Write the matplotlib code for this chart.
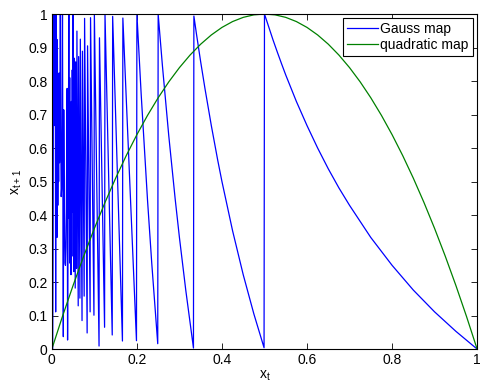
import matplotlib
matplotlib.use("Agg")
import matplotlib.pyplot as plt

# ── Data ──────────────────────────────────────────────────────────────────────

# Gauss map, chaotic part: sample points x = 0.001 ... 0.070
gauss_x_dense = [k / 1000 for k in range(1, 71)]
gauss_y_dense = [
    0.0, 0.0, 0.333, 1.0, 1.0, 0.667, 0.857, 1.0, 0.111, 1.0,
    0.909, 0.333, 0.923, 0.429, 0.667, 0.5, 0.824, 0.556, 0.632, 1.0,
    0.619, 0.455, 0.478, 0.667, 1.0, 0.462, 0.037, 0.714, 0.483, 0.333,
    0.258, 0.25, 0.303, 0.412, 0.571, 0.778, 0.027, 0.316, 0.641, 1.0,
    0.390, 0.810, 0.256, 0.727, 0.222, 0.739, 0.277, 0.833, 0.408, 1.0,
    0.608, 0.231, 0.868, 0.519, 0.182, 0.857, 0.544, 0.241, 0.949, 0.667,
    0.393, 0.129, 0.873, 0.625, 0.385, 0.152, 0.925, 0.706, 0.493, 0.286,
]

# Gauss map, teeth: corner points (x, y) for x > 0.07
gauss_x_teeth = [
    0.071, 0.072, 0.076, 0.077, 0.083, 0.084, 0.090, 0.091, 0.099, 0.100,
    0.111, 0.112, 0.124, 0.125, 0.142, 0.143, 0.166, 0.167, 0.199,
    0.200, 0.210, 0.225, 0.235, 0.249,
    0.250, 0.260, 0.275, 0.290, 0.300, 0.315, 0.333,
    0.334, 0.340, 0.350, 0.360, 0.375, 0.390, 0.400, 0.425, 0.450, 0.475, 0.499,
    0.500, 0.510, 0.520, 0.530, 0.540, 0.550, 0.575, 0.600, 0.625, 0.650,
    0.675, 0.700, 0.750, 0.800, 0.850, 0.900, 0.950, 0.999, 1.000,
]
gauss_y_teeth = [
    0.085, 0.889, 0.158, 0.987, 0.048, 0.905, 0.111, 0.989, 0.101, 1.0,
    0.009, 0.929, 0.065, 1.0, 0.042, 0.993, 0.024, 0.988, 0.025,
    1.0, 0.762, 0.444, 0.255, 0.016,
    1.0, 0.846, 0.636, 0.448, 0.333, 0.175, 0.003,
    0.994, 0.941, 0.857, 0.778, 0.667, 0.564, 0.5, 0.353, 0.222, 0.105, 0.004,
    1.0, 0.961, 0.923, 0.887, 0.852, 0.818, 0.739, 0.667, 0.6, 0.538,
    0.481, 0.429, 0.333, 0.25, 0.176, 0.111, 0.053, 0.001, 0.0,
]

# Quadratic map
quad_x = [k / 40 for k in range(41)]
quad_y = [
    0.0, 0.0975, 0.19, 0.2775, 0.36, 0.4375, 0.51, 0.5775, 0.64, 0.6975,
    0.75, 0.7975, 0.84, 0.8775, 0.91, 0.9375, 0.96, 0.9775, 0.99, 0.9975,
    1.0,
    0.9975, 0.99, 0.9775, 0.96, 0.9375, 0.91, 0.8775, 0.84, 0.7975, 0.75,
    0.6975, 0.64, 0.5775, 0.51, 0.4375, 0.36, 0.2775, 0.19, 0.0975, 0.0,
]

x_ticks = [0, 0.2, 0.4, 0.6, 0.8, 1]
x_tick_labels = ["0", "0.2", "0.4", "0.6", "0.8", "1"]
y_ticks = [0, 0.1, 0.2, 0.3, 0.4, 0.5, 0.6, 0.7, 0.8, 0.9, 1]
y_tick_labels = ["0", "0.1", "0.2", "0.3", "0.4", "0.5", "0.6", "0.7", "0.8", "0.9", "1"]

# ── Plot ──────────────────────────────────────────────────────────────────────

plt.rcParams["font.family"] = ["Liberation Sans", "DejaVu Sans"]
plt.rcParams["font.size"] = 10

fig = plt.figure(figsize=(4.8, 3.84), dpi=100)
ax = fig.add_axes([0.108, 0.091, 0.886, 0.8725])

gauss_x = gauss_x_dense + gauss_x_teeth
gauss_y = gauss_y_dense + gauss_y_teeth
ax.plot(gauss_x, gauss_y, color="#0000ff", lw=0.9, label="Gauss map")
ax.plot(quad_x, quad_y, color="#008000", lw=0.9, label="quadratic map")

ax.set_xlim(0, 1)
ax.set_ylim(0, 1)
ax.set_xticks(x_ticks)
ax.set_xticklabels(x_tick_labels)
ax.set_yticks(y_ticks)
ax.set_yticklabels(y_tick_labels)
ax.tick_params(direction="in", top=True, right=True, length=4, width=0.6, pad=3)
for s in ax.spines.values():
    s.set_linewidth(0.8)

ax.set_xlabel("x$_\\mathregular{t}$", labelpad=1)
ax.set_ylabel("x$_\\mathregular{t+1}$", labelpad=3)

leg = ax.legend(loc="upper right", fancybox=False, edgecolor="black",
                framealpha=1, borderaxespad=0.3, handlelength=2.2,
                handletextpad=0.2, borderpad=0.3, labelspacing=0.1)
leg.get_frame().set_linewidth(0.8)

fig.savefig("out.png", dpi=100)
